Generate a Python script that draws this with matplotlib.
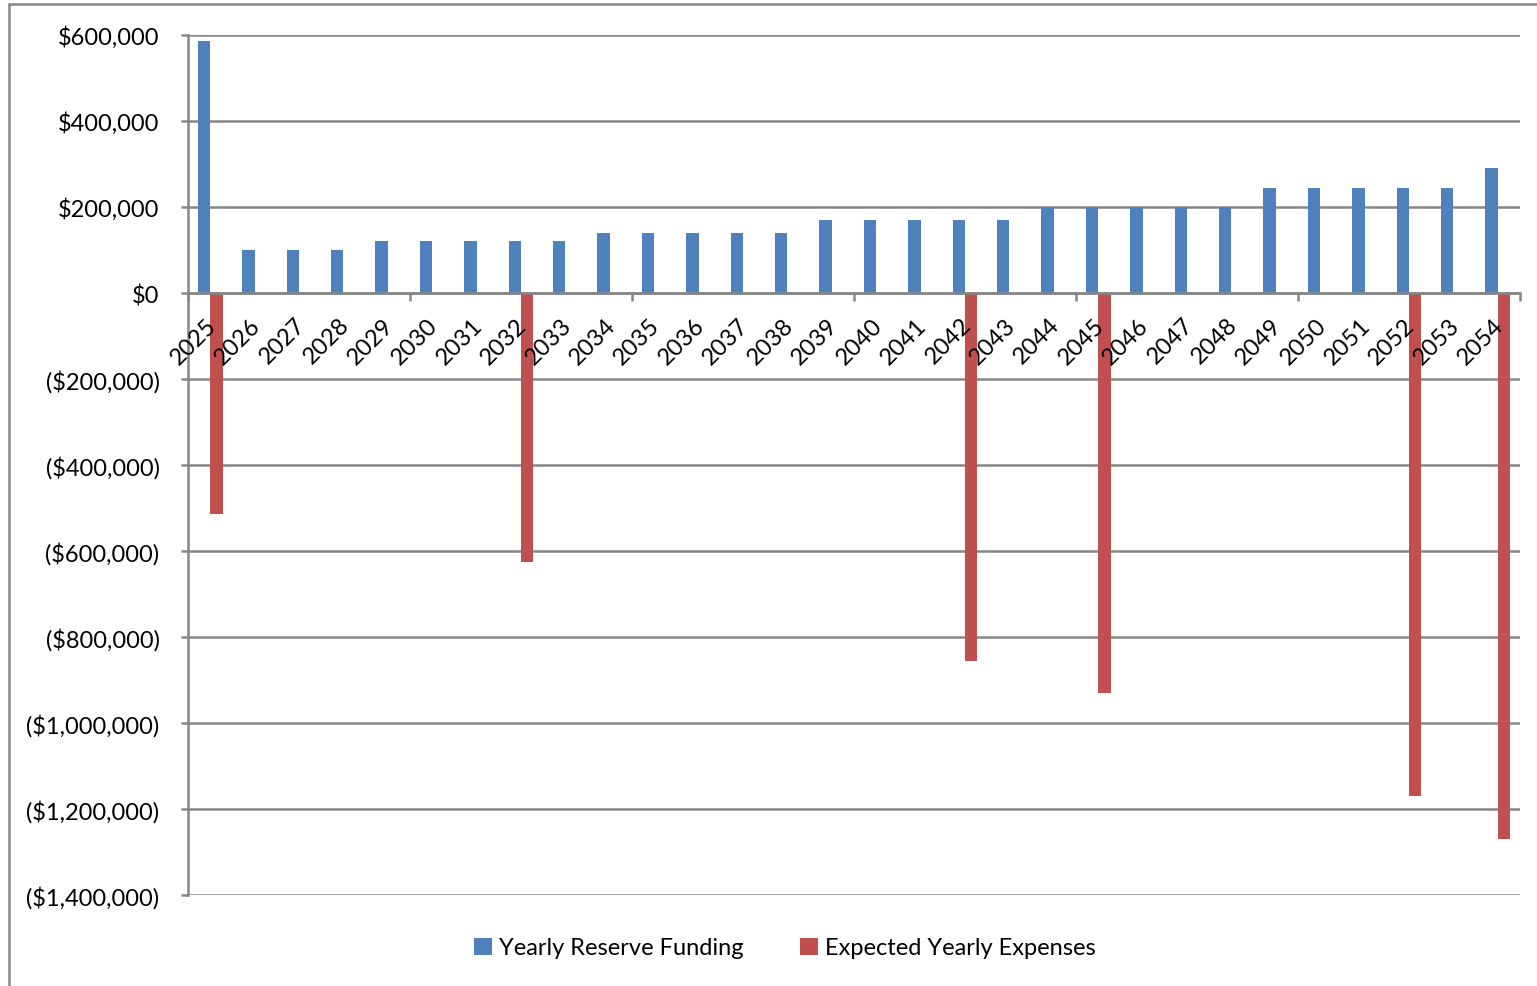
import numpy as np
import matplotlib
matplotlib.use('Agg')
import matplotlib.pyplot as plt
from matplotlib.patches import Rectangle
from matplotlib.ticker import FuncFormatter, FixedLocator
import matplotlib.transforms as mtransforms

# Data
years = list(range(2025, 2055))
funding = [585000, 100000, 100000, 100000,
           120000, 120000, 120000, 120000, 120000,
           140000, 140000, 140000, 140000, 140000,
           170000, 170000, 170000, 170000, 170000,
           200000, 200000, 200000, 200000, 200000,
           245000, 245000, 245000, 245000, 245000,
           290000]
expenses = [-515000, 0, 0, 0, 0, 0, 0, -625000, 0, 0,
            0, 0, 0, 0, 0, 0, 0, -855000, 0, 0,
            -930000, 0, 0, 0, 0, 0, 0, -1170000, 0, -1270000]
series_names = ['Yearly Reserve Funding', 'Expected Yearly Expenses']

blue = '#4F81BD'
red = '#C0504D'
grey = '#868686'

plt.rc('font', family=['Lato', 'DejaVu Sans'], size=17)

fig = plt.figure(figsize=(15.37, 9.87), dpi=100)
ax = fig.add_axes([188/1537, 1 - 896/987, (1520 - 188)/1537, (896 - 36)/987])

x = np.arange(len(years))
w = 0.28
ax.bar(x - w/2, funding, w, color=blue, label=series_names[0], zorder=3)
ax.bar(x + w/2, expenses, w, color=red, label=series_names[1], zorder=3)

ax.set_xlim(-0.5, len(years) - 0.5)
ax.set_ylim(-1400000, 600000)
ax.set_yticks(np.arange(-1400000, 600001, 200000))

def money(v, pos):
    if v < 0:
        return '(${:,.0f})'.format(-v)
    return '${:,.0f}'.format(v)
ax.yaxis.set_major_formatter(FuncFormatter(money))
ax.yaxis.grid(True, color=grey, linewidth=1.8, zorder=0)
ax.tick_params(axis='y', length=5, width=1.8, color=grey, pad=15.5, labelsize=17)

# x axis drawn at zero line, major ticks every 5 categories
ax.spines['bottom'].set_position(('data', 0))
ax.spines['bottom'].set_zorder(4)
ax.xaxis.set_zorder(5)
ax.xaxis.set_major_locator(FixedLocator(np.arange(-0.5, len(years), 5)))
ax.xaxis.set_major_formatter(FuncFormatter(lambda v, p: ''))
ax.set_xticks(x, [str(y) for y in years], minor=True)
ax.tick_params(axis='x', which='major', length=6, width=1.8, color=grey, direction='out')
ax.tick_params(axis='x', which='minor', length=0, pad=15, labelsize=17)
offset = mtransforms.ScaledTranslation(-0.05, 0.0, fig.dpi_scale_trans)
for lbl in ax.xaxis.get_minorticklabels():
    lbl.set_rotation(45)
    lbl.set_ha('right')
    lbl.set_va('top')
    lbl.set_rotation_mode('anchor')
    lbl.set_transform(lbl.get_transform() + offset)

for side in ['top', 'right']:
    ax.spines[side].set_visible(False)
for side in ['left', 'bottom']:
    ax.spines[side].set_color(grey)
    ax.spines[side].set_linewidth(1.8)

leg = fig.legend(loc='center', bbox_to_anchor=(785/1537, 1 - 949/987), ncol=2,
                 frameon=False, fontsize=17, handlelength=0.75, handleheight=0.75,
                 handletextpad=0.3, columnspacing=2.4)

# outer chart border
fig.patches.append(Rectangle((9/1537, -0.05), 1.2, 1 - 5/987 + 0.05,
                             transform=fig.transFigure, fill=False,
                             edgecolor=grey, linewidth=1.8))

fig.savefig('out.png', dpi=100)
